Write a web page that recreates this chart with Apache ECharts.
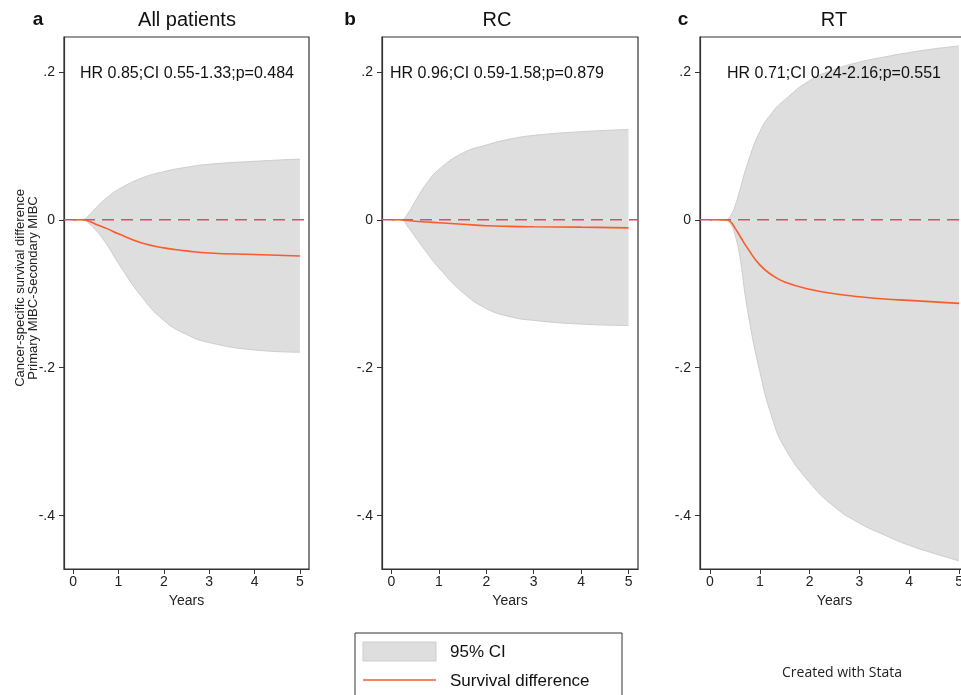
<!DOCTYPE html>
<html>
<head>
<meta charset="utf-8">
<script src="https://cdn.jsdelivr.net/npm/echarts@6/dist/echarts.min.js"></script>
<style>
  html, body { margin: 0; padding: 0; background: #fff; }
  #main { width: 961px; height: 695px; }
</style>
</head>
<body>
<div id="main"></div>
<script>
// years on the x axis
const yearTicks = [0, 1, 2, 3, 4, 5];
const yTicks = [-0.4, -0.2, 0, 0.2];

// a: All patients
const yearsA = [0, 0.2, 0.35, 0.5, 0.75, 1, 1.5, 2, 2.5, 3, 4, 5];
const upperA = [0, 0, 0.006, 0.016, 0.03, 0.041, 0.056, 0.065, 0.071, 0.075, 0.079, 0.082];
const lowerA = [0, 0, -0.005, -0.014, -0.034, -0.059, -0.103, -0.136, -0.155, -0.166, -0.176, -0.179];
const diffA = [0, 0, -0.002, -0.006, -0.012, -0.019, -0.031, -0.038, -0.042, -0.045, -0.047, -0.049];

// b: RC
const yearsB = [0, 0.2, 0.35, 0.5, 0.75, 1, 1.5, 2, 2.5, 3, 4, 5];
const upperB = [0, 0, 0.009, 0.025, 0.05, 0.068, 0.090, 0.101, 0.109, 0.114, 0.119, 0.122];
const lowerB = [0, 0, -0.01, -0.023, -0.045, -0.065, -0.098, -0.120, -0.131, -0.136, -0.141, -0.143];
const diffB = [0, 0, -0.001, -0.002, -0.003, -0.004, -0.006, -0.008, -0.009, -0.0095, -0.010, -0.011];

// c: RT
const yearsC = [0, 0.3, 0.4, 0.5, 0.6, 0.75, 1, 1.25, 1.5, 2, 2.5, 3, 3.5, 4, 4.5, 5];
const upperC = [0, 0, 0.004, 0.018, 0.04, 0.075, 0.119, 0.145, 0.162, 0.188, 0.203, 0.213, 0.22, 0.226, 0.231, 0.235];
const lowerC = [0, 0, -0.004, -0.02, -0.05, -0.12, -0.205, -0.268, -0.308, -0.355, -0.388, -0.41, -0.426, -0.44, -0.451, -0.461];
const diffC = [0, 0, -0.002, -0.011, -0.022, -0.038, -0.061, -0.075, -0.084, -0.094, -0.1, -0.104, -0.107, -0.109, -0.111, -0.113];

const panels = [
  { letter: 'a', title: 'All patients', note: 'HR 0.85;CI 0.55-1.33;p=0.484', years: yearsA, upper: upperA, lower: lowerA, diff: diffA },
  { letter: 'b', title: 'RC', note: 'HR 0.96;CI 0.59-1.58;p=0.879', years: yearsB, upper: upperB, lower: lowerB, diff: diffB },
  { letter: 'c', title: 'RT', note: 'HR 0.71;CI 0.24-2.16;p=0.551', years: yearsC, upper: upperC, lower: lowerC, diff: diffC }
];

const FONT = '"Liberation Sans", Arial, sans-serif';
const BAND = '#dedede';
const BAND_EDGE = '#cdcdcd';
const RED = '#fb5a2a';
const ZERO = '#d2506f';

// plot boxes (px); the last one runs past the right edge like the source image
const boxes = [
  { left: 64, width: 245, cx: 187, letterX: 38 },
  { left: 382, width: 256, cx: 497, letterX: 350 },
  { left: 700, width: 269, cx: 834, letterX: 683 }
];

const chart = echarts.init(document.getElementById('main'));

const grid = [], xAxis = [], yAxis = [], series = [];
panels.forEach((p, i) => {
  const b = boxes[i];
  grid.push({
    left: b.left, top: 37, width: b.width, height: 532,
    outerBoundsMode: 'none', containLabel: false,
    show: true, borderColor: '#333', borderWidth: 1.2, backgroundColor: '#fff'
  });
  xAxis.push({
    type: 'value', gridIndex: i, min: -0.2, max: 5.2,
    name: 'Years', nameLocation: 'middle', nameGap: 24,
    nameTextStyle: { fontFamily: FONT, fontSize: 14, color: '#222' },
    axisLine: { show: true, onZero: false, lineStyle: { color: '#333', width: 1.2 } },
    axisTick: { show: true, customValues: yearTicks, length: 5, lineStyle: { color: '#333' } },
    axisLabel: { customValues: yearTicks, margin: 6, fontFamily: FONT, fontSize: 14, color: '#222' },
    splitLine: { show: false }
  });
  yAxis.push({
    type: 'value', gridIndex: i, min: -0.472, max: 0.247,
    axisLine: { show: true, onZero: false, lineStyle: { color: '#333', width: 1.2 } },
    axisTick: { show: true, customValues: yTicks, length: 5, lineStyle: { color: '#333' } },
    axisLabel: {
      customValues: yTicks, margin: 9, fontFamily: FONT, fontSize: 14, color: '#222',
      formatter: v => v === 0 ? '0' : (v < 0 ? '-' : '') + Math.abs(v).toFixed(1).replace(/^0/, '')
    },
    splitLine: { show: false }
  });

  // CI band: upper >= 0 >= lower, so both halves are filled down/up to zero
  [p.upper, p.lower].forEach(edge => {
    series.push({
      name: '95% CI', type: 'line', xAxisIndex: i, yAxisIndex: i,
      smooth: 0.5, symbol: 'none',
      lineStyle: { color: BAND_EDGE, width: 1 },
      areaStyle: { color: BAND, opacity: 1, origin: 0 },
      data: p.years.map((t, k) => [t, edge[k]]),
      z: 1
    });
  });
  series.push({
    name: 'zero', type: 'line', xAxisIndex: i, yAxisIndex: i, symbol: 'none',
    lineStyle: { color: ZERO, width: 1.3, type: [12, 7] },
    data: [[-0.2, 0], [5.2, 0]],
    z: 2
  });
  series.push({
    name: 'Survival difference', type: 'line', xAxisIndex: i, yAxisIndex: i,
    smooth: 0.5, symbol: 'none',
    lineStyle: { color: RED, width: 1.6 },
    data: p.years.map((t, k) => [t, p.diff[k]]),
    z: 3
  });
});

const graphic = [];
panels.forEach((p, i) => {
  const b = boxes[i];
  graphic.push({
    type: 'text', x: b.letterX, y: 20,
    style: { text: p.letter, font: 'bold 19px ' + FONT, fill: '#111', textAlign: 'center', textVerticalAlign: 'middle' }
  });
  graphic.push({
    type: 'text', x: b.cx, y: 20,
    style: { text: p.title, font: '20px ' + FONT, fill: '#111', textAlign: 'center', textVerticalAlign: 'middle' }
  });
  graphic.push({
    type: 'text', x: b.cx, y: 74, z: 10,
    style: { text: p.note, font: '16px ' + FONT, fill: '#111', textAlign: 'center', textVerticalAlign: 'middle' }
  });
});

// y axis title
graphic.push({
  type: 'text', x: 27, y: 288, rotation: Math.PI / 2,
  style: {
    text: 'Cancer-specific survival difference\nPrimary MIBC-Secondary MIBC',
    font: '13px ' + FONT, lineHeight: 13, fill: '#222', textAlign: 'center', textVerticalAlign: 'middle'
  }
});

// legend box
graphic.push({ type: 'rect', shape: { x: 355, y: 633, width: 267, height: 80 }, style: { fill: '#fff', stroke: '#333', lineWidth: 1 } });
graphic.push({ type: 'rect', shape: { x: 363, y: 642, width: 73, height: 19 }, style: { fill: BAND, stroke: BAND_EDGE, lineWidth: 1 } });
graphic.push({ type: 'text', x: 450, y: 652, style: { text: '95% CI', font: '17px ' + FONT, fill: '#111', textVerticalAlign: 'middle' } });
graphic.push({ type: 'line', shape: { x1: 363, y1: 680, x2: 436, y2: 680 }, style: { stroke: RED, lineWidth: 1.6 } });
graphic.push({ type: 'text', x: 450, y: 681, style: { text: 'Survival difference', font: '17px ' + FONT, fill: '#111', textVerticalAlign: 'middle' } });

graphic.push({ type: 'text', x: 842, y: 673, style: { text: 'Created with Stata', font: '14px "Open Sans", sans-serif', fill: '#222', textAlign: 'center', textVerticalAlign: 'middle' } });

chart.setOption({
  animation: false,
  backgroundColor: '#fff',
  grid, xAxis, yAxis, series, graphic
});
</script>
</body>
</html>
